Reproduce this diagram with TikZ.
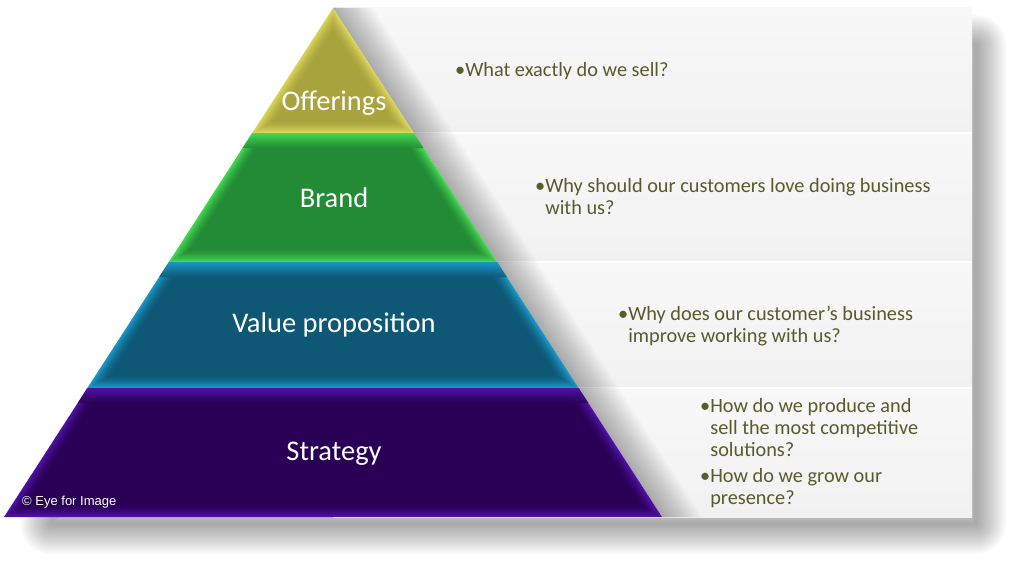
\documentclass[tikz,border=0pt]{standalone}
\usepackage{fontspec}
\setmainfont{Carlito}
\newfontfamily\arialfont{Liberation Sans}
\definecolor{offE}{HTML}{DCD65A}
\definecolor{offC}{HTML}{A9A33E}
\definecolor{brE}{HTML}{44DA52}
\definecolor{brC}{HTML}{238A36}
\definecolor{vaE}{HTML}{1C98C8}
\definecolor{vaC}{HTML}{0E5876}
\definecolor{stE}{HTML}{5012A8}
\definecolor{stC}{HTML}{2A0056}
\definecolor{panelTop}{HTML}{F8F8F8}
\definecolor{panelBot}{HTML}{F1F1F1}
\definecolor{qcol}{HTML}{585B2C}

% bevelled trapezoid band of the pyramid
\newcommand{\pyrband}[4]{%
  \foreach \d in {0,1,...,13}{%
    \pgfmathtruncatemacro{\pc}{100*(1-\d/13)^1.6}%
    \pgfmathsetmacro{\yt}{#1+\d}%
    \pgfmathsetmacro{\yb}{#2-\d}%
    \pgfmathsetmacro{\xlt}{333-0.64637*(\yt-8)+1.1907*\d}%
    \pgfmathsetmacro{\xrt}{333+0.64637*(\yt-8)-1.1907*\d}%
    \pgfmathsetmacro{\xlb}{333-0.64637*(\yb-8)+1.1907*\d}%
    \pgfmathsetmacro{\xrb}{333+0.64637*(\yb-8)-1.1907*\d}%
    \fill[#3!\pc!#4] (\xlt,\yt) -- (\xrt,\yt) -- (\xrb,\yb) -- (\xlb,\yb) -- cycle;
  }%
  % bright top strip across the full width
  \pgfmathsetmacro{\xlt}{333-0.64637*(#1-8)}%
  \pgfmathsetmacro{\xrt}{333+0.64637*(#1-8)}%
  \pgfmathsetmacro{\xlb}{333-0.64637*(#1+15-8)}%
  \pgfmathsetmacro{\xrb}{333+0.64637*(#1+15-8)}%
  \shade[top color=#3,bottom color=#4,shading angle=0,opacity=0.85]
    (\xlt,#1) -- (\xrt,#1) -- (\xrb,#1+15) -- (\xlb,#1+15) -- cycle;
}
% bevelled top triangle
\newcommand{\pyrtop}[3]{%
  \foreach \d in {0,1,...,13}{%
    \pgfmathtruncatemacro{\pc}{100*(1-\d/13)^1.6}%
    \pgfmathsetmacro{\ya}{8+1.842*\d}%
    \pgfmathsetmacro{\yb}{#1-\d}%
    \pgfmathsetmacro{\xlb}{333-0.64637*(\yb-8)+1.1907*\d}%
    \pgfmathsetmacro{\xrb}{333+0.64637*(\yb-8)-1.1907*\d}%
    \fill[#2!\pc!#3] (333,\ya) -- (\xrb,\yb) -- (\xlb,\yb) -- cycle;
  }%
}
% shadow cast by a band on the panel at its right
\newcommand{\bandshadow}[2]{%
  \pgfmathsetmacro{\xrt}{333+0.64637*(#1-8)}%
  \pgfmathsetmacro{\xrb}{333+0.64637*(#2-8)}%
  \foreach \s in {1,...,16}{%
    \pgfmathsetmacro{\sh}{2.5*\s}%
    \fill[black,opacity=0.02] (\xrt,#1) -- (\xrt+\sh,#1) -- (\xrb+\sh,#2) -- (\xrb,#2) -- cycle;
  }%
}
% question block: first line's baseline is the node's base
\newcommand{\qblock}[1]{\parbox[t]{420pt}{\raggedright\fontsize{20.3}{22}\selectfont #1}}

\tikzset{
  lvl/.style={text=white,font=\fontsize{28.5}{32}\selectfont},
  qtext/.style={text=qcol,inner sep=0pt,anchor=base west},
  sep/.style={white,line width=2pt}
}

\begin{document}
\begin{tikzpicture}[x=1pt,y=-1pt]
\useasboundingbox (0,0) rectangle (1024,575);
\fill[white] (0,0) rectangle (1024,575);

% soft drop shadow of the whole slide
\foreach \i in {1,...,15}{%
  \pgfmathsetmacro{\lw}{4*\i}%
  \draw[black,opacity=0.022,line width=\lw pt,line join=round]
    (359.1,45) -- (976,45) -- (976,524) -- (50.8,524) -- cycle;
}

% text panel bands
\shade[top color=panelTop,bottom color=panelBot] (333,8) rectangle (972,133);
\shade[top color=panelTop,bottom color=panelBot] (333,133) rectangle (972,262);
\shade[top color=panelTop,bottom color=panelBot] (333,262) rectangle (972,388);
\shade[top color=panelTop,bottom color=panelBot] (333,388) rectangle (972,517);
\draw[sep] (400,133) -- (972,133);
\draw[sep] (480,262) -- (972,262);
\draw[sep] (560,388) -- (972,388);

% band shadows
\bandshadow{8}{133}
\bandshadow{133}{262}
\bandshadow{262}{388}
\bandshadow{388}{517}

% pyramid
\pyrtop{133}{offE}{offC}
\pyrband{133}{262}{brE}{brC}
\pyrband{262}{388}{vaE}{vaC}
\pyrband{388}{517}{stE}{stC}

% labels
\node[lvl] (offerings) at (334,103) {Offerings};
\node[lvl] (brand) at (334,197.5) {Brand};
\node[lvl] (value) at (334,325) {Value proposition};
\node[lvl] (strategy) at (334,454) {Strategy};
\node[text=white,font=\arialfont\fontsize{13}{15}\selectfont,anchor=west,inner sep=0pt] (copy) at (22,502) {© Eye for Image};

% questions
\node[qtext] (q1) at (455,77) {\qblock{•What exactly do we sell?}};
\node[qtext] (q2) at (535,192) {\qblock{•Why should our customers love doing business\\\hphantom{•}with us?}};
\node[qtext] (q3) at (618,320) {\qblock{•Why does our customer’s business\\\hphantom{•}improve working with us?}};
\node[qtext] (q4) at (700,412) {\qblock{•How do we produce and\\\hphantom{•}sell the most competitive\\\hphantom{•}solutions?}};
\node[qtext] (q5) at (700,482) {\qblock{•How do we grow our\\\hphantom{•}presence?}};
\end{tikzpicture}
\end{document}
